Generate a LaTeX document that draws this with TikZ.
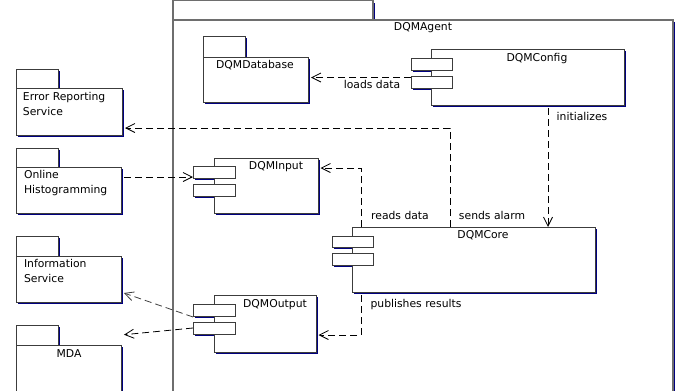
\documentclass[tikz,border=0pt]{standalone}
\usepackage{fontspec}
\setmainfont{DejaVu Sans}
\usetikzlibrary{arrows.meta,shadows}
\definecolor{shadowblue}{RGB}{0,0,128}
\definecolor{edgegray}{RGB}{60,60,60}
\definecolor{agentgray}{RGB}{110,110,110}
\begin{document}
\begin{tikzpicture}[x=1pt,y=-1pt,
  every node/.style={font=\fontsize{10.8}{15}\selectfont, inner sep=0pt, outer sep=0pt},
  navyshadow/.style={drop shadow={shadow xshift=2pt, shadow yshift=-2pt, fill=shadowblue, opacity=1}},
  boxshape/.style={rectangle, draw=edgegray, fill=white, line width=0.9pt, anchor=north west, navyshadow},
  agentshape/.style={boxshape, draw=agentgray, line width=1.1pt},
  portshape/.style={rectangle, draw=edgegray, fill=white, line width=0.9pt, anchor=north west, minimum width=42pt, minimum height=12pt},
  portshadow/.style={fill=shadowblue},
  txt/.style={anchor=base},
  txtl/.style={anchor=base west, align=left},
  dep/.style={draw=black, line width=0.8pt, dash pattern=on 7pt off 4pt,
    -{Straight Barb[length=9pt,width=9pt,line width=0.8pt]}}
]
\clip (0,0) rectangle (681,391);

% DQMAgent package
\node[agentshape, minimum width=200pt, minimum height=21pt] (agtab) at (173,0.5) {};
\node[agentshape, minimum width=500pt, minimum height=420pt] (ag) at (173,20) {};
\node[txt] (agl) at (423,30) {DQMAgent};

% DQMDatabase package
\node[boxshape, minimum width=42pt, minimum height=21pt] (dbtab) at (203,36) {};
\node[boxshape, minimum width=105pt, minimum height=45pt] (db) at (203,57) {};
\node[txt] (dbl) at (255,68) {DQMDatabase};

% DQMConfig component
\fill[portshadow] (413,60) rectangle ++(41,12);
\fill[portshadow] (413,78) rectangle ++(41,12);
\node[boxshape, minimum width=193pt, minimum height=56pt] (cfg) at (431,49) {};
\node[portshape, minimum width=41pt] (cfgp1) at (411,58) {};
\node[portshape, minimum width=41pt] (cfgp2) at (411,76) {};
\node[txt] (cfgl) at (537,61) {DQMConfig};

% External packages
\node[boxshape, minimum width=42pt, minimum height=20pt] (errtab) at (16,69) {};
\node[boxshape, minimum width=106pt, minimum height=47pt] (err) at (16,88) {};
\node[txtl] (errl) at (23,115) {Error Reporting\\Service};

\node[boxshape, minimum width=42pt, minimum height=20pt] (onltab) at (16,148) {};
\node[boxshape, minimum width=105pt, minimum height=46pt] (onl) at (16,167) {};
\node[txtl] (onll) at (24,193) {Online\\Histogramming};

\node[boxshape, minimum width=42pt, minimum height=21pt] (infotab) at (16,236) {};
\node[boxshape, minimum width=105pt, minimum height=46pt] (info) at (16,256) {};
\node[txtl] (infol) at (24,282) {Information\\Service};

\node[boxshape, minimum width=42pt, minimum height=21pt] (mdatab) at (16,325) {};
\node[boxshape, minimum width=105pt, minimum height=60pt] (mda) at (16,345) {};
\node[txt] (mdal) at (69,357) {MDA};

% DQMInput component
\fill[portshadow] (195,168) rectangle ++(42,12);
\fill[portshadow] (195,186) rectangle ++(42,12);
\node[boxshape, minimum width=104pt, minimum height=55pt] (inp) at (214,158) {};
\node[portshape] (inp1) at (193,166) {};
\node[portshape] (inp2) at (193,184) {};
\node[txt] (inpl) at (276,169) {DQMInput};

% DQMCore component
\fill[portshadow] (334,238) rectangle ++(41,11);
\fill[portshadow] (334,255) rectangle ++(41,12);
\node[boxshape, minimum width=243pt, minimum height=65pt] (core) at (352,227) {};
\node[portshape, minimum width=41pt, minimum height=11pt] (corep1) at (332,236) {};
\node[portshape, minimum width=41pt] (corep2) at (332,253) {};
\node[txt] (corel) at (483,238) {DQMCore};

% DQMOutput component
\fill[portshadow] (195,306) rectangle ++(42,12);
\fill[portshadow] (195,324) rectangle ++(42,12);
\node[boxshape, minimum width=102pt, minimum height=57pt] (out) at (214,295) {};
\node[portshape] (outp1) at (193,304) {};
\node[portshape] (outp2) at (193,322) {};
\node[txt] (outl) at (275,307) {DQMOutput};

% Connectors
\draw[dep, shorten >=3pt] (cfgp2.west |- 0,77.5) -- (db.east |- 0,77.5);
\node[txt] (loadl) at (372,88) {loads data};

\draw[dep, shorten <=3pt] (548,0 |- cfg.south) -- (548,0 |- core.north);
\node[txt] (initl) at (582,120) {initializes};

\draw[dep, shorten >=3pt] (450,0 |- core.north) |- (err.east |- 0,128);
\node[txt] (alarml) at (492,219) {sends alarm};

\draw[dep, shorten <=3pt] (onl.east |- 0,177) -- (inp1.west |- 0,177);

\draw[dep, shorten >=2.5pt] (361,0 |- core.north) |- (inp.east |- 0,168);
\node[txt] (readl) at (400,219) {reads data};

\draw[dep, shorten <=3pt, shorten >=2.5pt] (361,0 |- core.south) |- (out.east |- 0,335);
\node[txt] (publ) at (416,307) {publishes results};

\draw[dep, draw=black!75, shorten >=3pt] (outp1.west |- 0,317) -- (info.east |- 0,292);
\draw[dep, shorten >=3pt] (outp2.west |- 0,328) -- (mda.east |- 0,335);
\end{tikzpicture}
\end{document}
